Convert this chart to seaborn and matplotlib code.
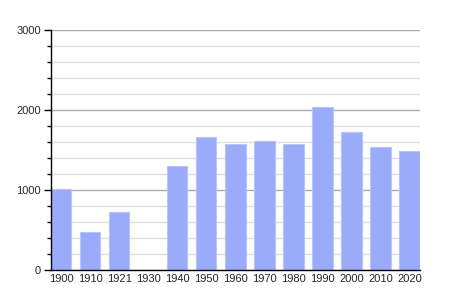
import numpy as np
import pandas as pd
import matplotlib
matplotlib.use("Agg")
import matplotlib.pyplot as plt
import seaborn as sns
from matplotlib.ticker import MultipleLocator

years = ["1900", "1910", "1921", "1930", "1940", "1950", "1960", "1970", "1980", "1990", "2000", "2010", "2020"]
population = [1012, 479, 725, np.nan, 1300, 1662, 1575, 1612, 1575, 2037, 1725, 1537, 1487]

sns.set_style("white")
plt.rcParams['font.family'] = ['Liberation Sans', 'DejaVu Sans']

df = pd.DataFrame({"year": years, "pop": population})

fig = plt.figure(figsize=(4.5, 3), dpi=100)
ax = fig.add_axes([0.113, 0.1, 0.82, 0.8])

ax.set_ylim(0, 3000)
ax.yaxis.set_major_locator(MultipleLocator(1000))
ax.yaxis.set_minor_locator(MultipleLocator(200))
ax.grid(which="major", axis="y", color="#aaaaaa", linewidth=1)
ax.grid(which="minor", axis="y", color="#e0e0e0", linewidth=1)
ax.set_axisbelow(True)

sns.barplot(data=df, x="year", y="pop", order=years, color="#9aabfa",
            saturation=1, width=0.7, edgecolor="#b8c4fb", linewidth=0.8, ax=ax)

ax.set_xlim(-0.36, 12.36)
ax.set_xlabel("")
ax.set_ylabel("")
for s in ["top", "right"]:
    ax.spines[s].set_visible(False)
ax.spines["left"].set_color("black")
ax.spines["bottom"].set_color("black")
ax.spines["left"].set_linewidth(1)
ax.spines["bottom"].set_linewidth(1)
ax.tick_params(axis="y", which="major", length=5, width=1, color="black", labelsize=8, pad=2, left=True)
ax.tick_params(axis="y", which="minor", length=3, width=1, color="black", left=True)
ax.tick_params(axis="x", length=0, labelsize=8, pad=3)

fig.savefig("out.png", dpi=100)
